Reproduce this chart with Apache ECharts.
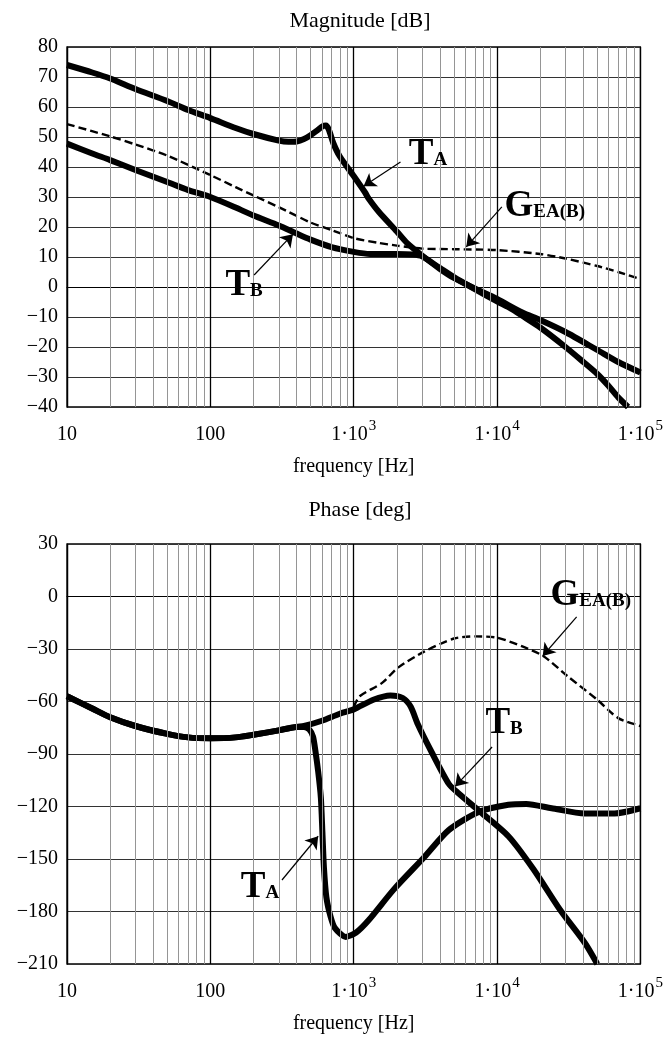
<!DOCTYPE html>
<html>
<head>
<meta charset="utf-8">
<script src="https://cdn.jsdelivr.net/npm/echarts@6/dist/echarts.min.js"></script>
<style>
  html, body { margin: 0; padding: 0; background: #fff; }
  #chart { width: 666px; height: 1042px; }
</style>
</head>
<body>
<div id="chart"></div>
<script>
// ---- Bode plot data: frequency [Hz] / value pairs ----
// Magnitude [dB]
const magTA_f = [10, 15, 20, 30, 50, 70, 100, 150, 200, 300, 350, 400, 450, 500, 560, 610, 640, 670, 720, 800, 1000, 1200, 1270, 1500, 2000, 2350, 3000, 4000, 5000, 7000, 10000, 15000, 20000, 30000, 50000, 70000, 100000];
const magTA_v = [74, 71.5, 69.5, 66, 62, 59, 56.3, 53, 51, 48.8, 48.4, 48.5, 49.3, 50.6, 52.3, 53.6, 53.8, 52.5, 48, 43.5, 37, 31.5, 29.5, 25, 18.5, 14.7, 10.5, 6, 3, -0.5, -4, -8.5, -11, -15, -21, -25, -28.5];

const magTB_f = [10, 15, 20, 30, 50, 70, 100, 150, 200, 300, 400, 500, 700, 1000, 1300, 2000, 2600, 3000, 4000, 5000, 7000, 10000, 12500, 15000, 20000, 30000, 40000, 50000, 60000, 70000, 82000];
const magTB_v = [47.8, 44.5, 42.3, 39, 35, 32.3, 30, 26.5, 23.8, 20.5, 17.8, 15.8, 13.3, 11.7, 11, 11, 10.8, 10.2, 6.3, 3.3, -0.7, -4.8, -7.2, -9.6, -13.5, -20, -25, -29, -33, -36.8, -40];

const magG_f = [10, 20, 30, 50, 100, 150, 200, 300, 500, 700, 1000, 1500, 2000, 3000, 5000, 10000, 20000, 30000, 50000, 70000, 100000];
const magG_v = [54.3, 50.2, 47.5, 43.8, 37.3, 33.3, 30.5, 26.6, 21.5, 19, 16.3, 14.7, 13.8, 12.8, 12.6, 12.3, 11, 9.5, 7, 5, 2.6];

// Phase [deg]
const phTA_f = [10, 15, 20, 30, 50, 70, 100, 150, 200, 300, 400, 450, 490, 520, 540, 565, 590, 605, 620, 645, 690, 740, 880, 1040, 1270, 1900, 3100, 4600, 7500, 12000, 16000, 24000, 41000, 66000, 100000];
const phTA_v = [-57, -64, -69, -74, -78.5, -80.5, -81, -80.5, -79, -76.5, -74.5, -74.5, -76, -80, -88, -100, -115, -135, -155, -172, -183, -189.5, -194.5, -192, -185, -167.5, -149, -133.5, -123, -119, -118.5, -121, -124, -124, -121];

const phTB_f = [10, 15, 20, 30, 50, 70, 100, 150, 200, 300, 400, 450, 600, 800, 1000, 1370, 1800, 2200, 2500, 2800, 3500, 4600, 5300, 7500, 12000, 18000, 27500, 41000, 50000];
const phTB_v = [-57, -64, -69, -74, -78.5, -80.5, -81, -80.5, -79, -76.5, -74.5, -74, -71, -67, -64.5, -59, -56.5, -58, -63, -73, -89, -107, -112, -122.5, -137, -156, -179, -198, -210];

const phG_f = [1000, 1100, 1570, 2050, 3100, 5000, 7000, 10000, 15000, 21000, 31000, 50000, 70000, 100000];
const phG_v = [-63, -57, -49.5, -40.5, -31.5, -24, -22.8, -23.5, -28.5, -34, -45.5, -59, -69.5, -74];

// Axis ticks
const xDecades = [10, 100, 1000, 10000, 100000];
const xTickText = ['{b|10}', '{b|100}', '{b|1·10}{s|3}', '{b|1·10}{s|4}', '{b|1·10}{s|5}'];
const magTicks = [-40, -30, -20, -10, 0, 10, 20, 30, 40, 50, 60, 70, 80];
const phaseTicks = [-210, -180, -150, -120, -90, -60, -30, 0, 30];
const minorMultipliers = [2, 3, 4, 5, 6, 7, 8, 9];

// Curve annotations: label position and arrow (tail -> head) in data coordinates
const magLabels = [
  { text: '{t|T}{s|A}', at: [3300, 44.5] },
  { text: '{t|G}{s|EA(B)}', at: [21500, 27] },
  { text: '{t|T}{s|B}', at: [172, 0.8] }
];
const magArrows = [
  [[2120, 41.7], [1172, 33.6]],
  [[10800, 26.7], [6100, 13.4]],
  [[202, 4], [377, 17.6]]
];
const phLabels = [
  { text: '{t|G}{s|EA(B)}', at: [45000, 1] },
  { text: '{t|T}{s|B}', at: [11200, -72] },
  { text: '{t|T}{s|A}', at: [222, -166] }
];
const phArrows = [
  [[35900, -11.7], [20800, -34]],
  [[9230, -86], [5100, -108.5]],
  [[316, -162], [565, -137]]
];

const FONT = '"Liberation Serif", "Times New Roman", Times, serif';

function pairs(fs, vs) { return fs.map((f, i) => [f, vs[i]]); }

const minorLines = [];
for (let d = 0; d < xDecades.length - 1; d++) {
  minorMultipliers.forEach(m => minorLines.push({ xAxis: xDecades[d] * m }));
}

function xAxisCfg(gridIndex) {
  return {
    type: 'log', logBase: 10, gridIndex,
    min: 10, max: 100000,
    axisLine: { show: true, lineStyle: { color: '#000', width: 1.2 } },
    axisTick: { show: false },
    splitLine: { show: true, lineStyle: { color: '#000', width: 1.3 } },
    axisLabel: {
      margin: 12,
      formatter: v => {
        const i = xDecades.indexOf(Math.round(v));
        return i >= 0 ? xTickText[i] : '';
      },
      rich: {
        b: { fontFamily: FONT, fontSize: 20, color: '#000', lineHeight: 26, verticalAlign: 'bottom' },
        s: { fontFamily: FONT, fontSize: 15, color: '#000', lineHeight: 26, verticalAlign: 'top', padding: [0, 0, 0, 1] }
      }
    },
    name: 'frequency [Hz]',
    nameLocation: 'middle',
    nameGap: 50,
    nameTextStyle: { fontFamily: FONT, fontSize: 20, color: '#000' }
  };
}

function yAxisCfg(gridIndex, ticks) {
  return {
    type: 'value', gridIndex,
    min: ticks[0], max: ticks[ticks.length - 1],
    interval: ticks[1] - ticks[0],
    axisLine: { show: true, lineStyle: { color: '#000', width: 1.2 } },
    axisTick: { show: false },
    splitLine: { show: true, lineStyle: { color: '#333', width: 1 } },
    axisLabel: {
      margin: 9,
      fontFamily: FONT, fontSize: 20, color: '#000',
      formatter: v => String(v).replace('-', '\u2212')
    }
  };
}

const labelRich = {
  t: { fontFamily: FONT, fontSize: 37, fontWeight: 'bold', color: '#000', lineHeight: 38, verticalAlign: 'bottom' },
  s: { fontFamily: FONT, fontSize: 19, fontWeight: 'bold', color: '#000', lineHeight: 38, verticalAlign: 'bottom', padding: [0, 0, 3, 0] }
};

function curve(name, xi, fs, vs, dashed) {
  return {
    name, type: 'line', xAxisIndex: xi, yAxisIndex: xi,
    data: pairs(fs, vs),
    showSymbol: false, symbol: 'none',
    smooth: 0.25,
    z: dashed ? 4 : 3,
    lineStyle: dashed
      ? { color: '#000', width: 2.4, type: [8, 4] }
      : { color: '#000', width: 6, cap: 'butt', join: 'round' },
    silent: true
  };
}

function gridLines(xi) {
  return {
    type: 'line', xAxisIndex: xi, yAxisIndex: xi, data: [], z: 1, silent: true,
    markLine: {
      silent: true, symbol: 'none', animation: false,
      label: { show: false },
      lineStyle: { color: '#959595', width: 1, type: 'solid' },
      data: minorLines
    }
  };
}

function annotations(xi, labels, arrows) {
  return {
    type: 'scatter', xAxisIndex: xi, yAxisIndex: xi, z: 6, silent: true,
    symbolSize: 0,
    itemStyle: { color: '#000', opacity: 1 },
    data: labels.map(l => ({ value: l.at, label: { formatter: l.text } })),
    label: { show: true, position: 'inside', opacity: 1, color: '#000', rich: labelRich },
    markLine: {
      silent: true, animation: false,
      symbol: ['none', 'arrow'], symbolSize: 12,
      label: { show: false },
      lineStyle: { color: '#000', width: 1.2, type: 'solid', opacity: 1 },
      itemStyle: { color: '#000', opacity: 1 },
      data: arrows.map(a => [{ coord: a[0] }, { coord: a[1] }])
    }
  };
}

const chart = echarts.init(document.getElementById('chart'), null, { renderer: 'canvas' });
chart.setOption({
  animation: false,
  backgroundColor: '#fff',
  title: [
    { text: 'Magnitude [dB]', left: 355, top: 5, textAlign: 'center',
      textStyle: { fontFamily: FONT, fontSize: 22, fontWeight: 'normal', color: '#000' } },
    { text: 'Phase [deg]', left: 355, top: 494, textAlign: 'center',
      textStyle: { fontFamily: FONT, fontSize: 22, fontWeight: 'normal', color: '#000' } }
  ],
  grid: [
    { left: 67, top: 47, width: 576, height: 360, show: true, borderColor: '#000', borderWidth: 1.3, backgroundColor: 'transparent' },
    { left: 67, top: 544, width: 576, height: 420, show: true, borderColor: '#000', borderWidth: 1.3, backgroundColor: 'transparent' }
  ],
  xAxis: [xAxisCfg(0), xAxisCfg(1)],
  yAxis: [yAxisCfg(0, magTicks), yAxisCfg(1, phaseTicks)],
  series: [
    gridLines(0),
    gridLines(1),
    curve('G_EA(B) magnitude', 0, magG_f, magG_v, true),
    curve('T_A magnitude', 0, magTA_f, magTA_v, false),
    curve('T_B magnitude', 0, magTB_f, magTB_v, false),
    curve('G_EA(B) phase', 1, phG_f, phG_v, true),
    curve('T_A phase', 1, phTA_f, phTA_v, false),
    curve('T_B phase', 1, phTB_f, phTB_v, false),
    annotations(0, magLabels, magArrows),
    annotations(1, phLabels, phArrows)
  ]
});
</script>
</body>
</html>
